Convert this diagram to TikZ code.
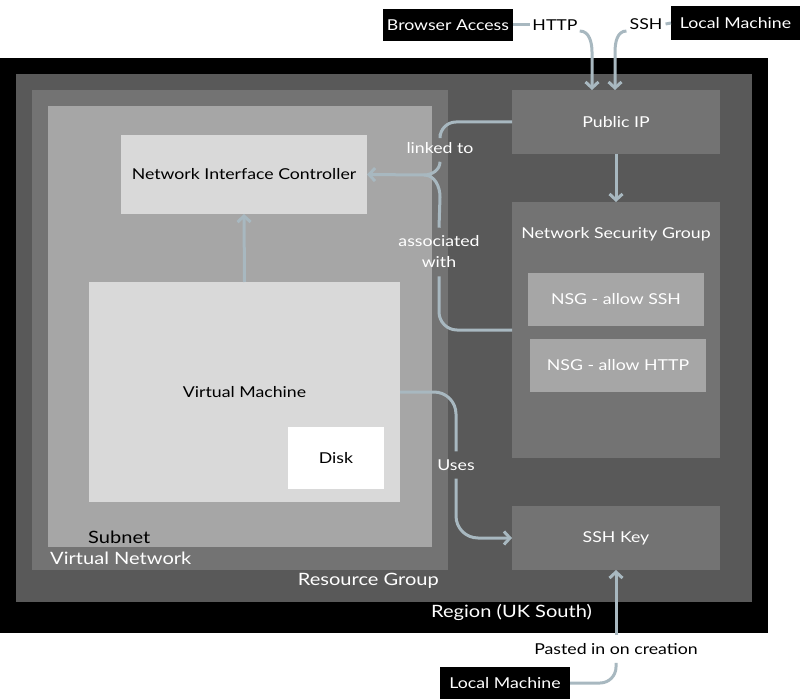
\documentclass[tikz,border=0pt]{standalone}
\usepackage{fontspec}
\setmainfont{Lato}[FakeStretch=1.18]
\usetikzlibrary{arrows.meta,calc}
\definecolor{rgc}{HTML}{595959}
\definecolor{midc}{HTML}{737373}
\definecolor{ltc}{HTML}{A6A6A6}
\definecolor{palec}{HTML}{D9D9D9}
\definecolor{connc}{HTML}{A8B8C0}
\begin{document}
\begin{tikzpicture}[x=1pt,y=-1pt,
  area/.style={rectangle, inner sep=0pt, outer sep=0pt, anchor=north west},
  boxc/.style={rectangle, inner sep=0pt, outer sep=0pt},
  tw/.style={text=white, font=\fontsize{15}{21}\selectfont},
  tb/.style={text=black, font=\fontsize{15}{21}\selectfont},
  big/.style={font=\fontsize{17}{21}\selectfont},
  lbl/.style={inner xsep=2pt, inner ysep=8pt, align=center},
  conn/.style={draw=connc, line width=3pt},
  arr/.style={conn, -{Straight Barb[length=6pt,width=13pt]}}]
\useasboundingbox (0,0) rectangle (802,700);
% containers
\node[area, fill=black, minimum width=768pt, minimum height=575pt] (region) at (0,58) {};
\node[area, fill=rgc, minimum width=736pt, minimum height=528pt] (rg) at (16,74) {};
\node[area, fill=midc, minimum width=416pt, minimum height=480pt] (vnet) at (32,90) {};
\node[area, fill=ltc, minimum width=384pt, minimum height=441pt] (subnet) at (48,106) {};
\node[tb, big, anchor=west, inner sep=0pt] (subnett) at (88,537) {Subnet};
\node[tw, big, anchor=west, inner sep=0pt] (vnett) at (50,558) {Virtual Network};
\node[tw, big, anchor=east, inner sep=0pt] (rgt) at (439,581) {Resource Group};
\node[tw, big, anchor=west, inner sep=0pt] (regiont) at (431,612) {Region (UK South)};
% boxes
\node[boxc, fill=palec, tb, minimum width=246pt, minimum height=79pt] (nic) at (244,174.5) {\raisebox{-1.5pt}{Network Interface Controller}};
\node[boxc, fill=palec, tb, minimum width=311pt, minimum height=220pt] (vm) at (244.5,392) {\raisebox{-1.5pt}{Virtual Machine}};
\node[boxc, fill=white, tb, minimum width=96pt, minimum height=62pt] (disk) at (336,458) {Disk};
\node[boxc, fill=midc, tw, minimum width=208pt, minimum height=64pt] (pip) at (616,122) {Public IP};
\node[boxc, fill=midc, minimum width=208pt, minimum height=256pt] (nsg) at (616,330) {};
\node[tw, inner sep=0pt] (nsgt) at (616,234) {Network Security Group};
\node[boxc, fill=ltc, tw, minimum width=176pt, minimum height=53pt] (nsgssh) at (616,299.5) {NSG - allow SSH};
\node[boxc, fill=ltc, tw, minimum width=176pt, minimum height=53pt] (nsghttp) at (618,365.5) {NSG - allow HTTP};
\node[boxc, fill=midc, tw, minimum width=208pt, minimum height=64pt] (sshkey) at (616,538) {SSH Key};
\node[boxc, fill=black, tw, minimum width=130pt, minimum height=32pt] (ba) at (448,25) {Browser Access};
\node[boxc, fill=black, tw, minimum width=129pt, minimum height=34pt] (lm1) at (735.5,23) {Local Machine};
\node[boxc, fill=black, tw, minimum width=130pt, minimum height=32pt] (lm2) at (505,683) {Local Machine};
% connector labels
\node[tb, inner xsep=2pt, inner ysep=4pt] (http) at (555,25) {HTTP};
\node[tb, inner xsep=3pt, inner ysep=4pt] (ssh) at (646,24) {SSH};
\node[tw, lbl] (linked) at (440,148) {linked to};
\node[tw, lbl] (assoc) at (439,252) {associated\\with};
\node[tw, lbl] (uses) at (456,465) {Uses};
\node[tb, lbl] (pasted) at (616,649) {Pasted in on creation};
\coordinate (merge) at (424,175);
% connectors
\draw[conn] (ba.east) -- (http.west);
\draw[arr] ($(http.east)+(0,6)$) to[out=0,in=90] (592,52) -- ($(pip.north)+(-24,0)$);
\draw[conn] (lm1.west) -- (ssh.east);
\draw[arr] ($(ssh.west)+(0,7)$) to[out=180,in=90] (615,52) -- ($(pip.north)+(-1,0)$);
\draw[arr] (pip.south) -- (nsg.north);
\draw[conn, rounded corners=16pt] (pip.west) -| (linked.north);
\draw[conn] (linked.south) to[out=-90,in=0] (merge);
\draw[conn, rounded corners=18pt] (nsg.west) -| (assoc.south);
\draw[conn] (assoc.north) -- (440,197) to[out=90,in=0] (merge);
\draw[arr] (merge) -- (nic.east);
\draw[arr] (vm.north) -- (nic.south);
\draw[conn, rounded corners=22pt] (vm.east) -| (uses.north);
\draw[arr, rounded corners=22pt] (uses.south) |- (sshkey.west);
\draw[conn, rounded corners=16pt] (lm2.east) -| (pasted.south);
\draw[arr] (pasted.north) -- (sshkey.south);
\end{tikzpicture}
\end{document}
